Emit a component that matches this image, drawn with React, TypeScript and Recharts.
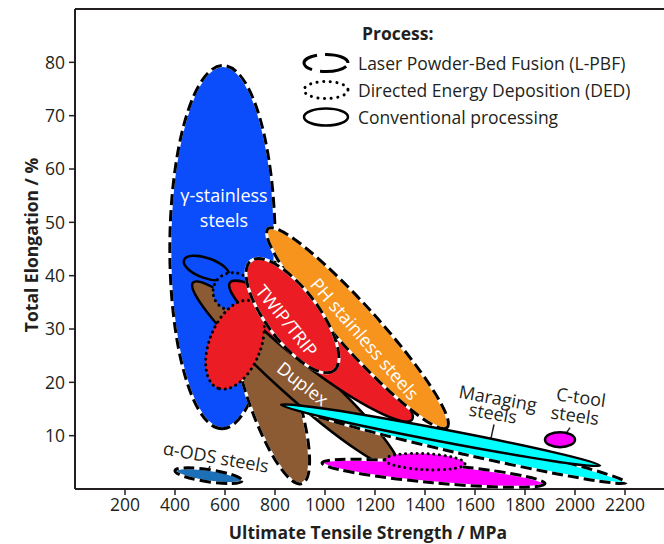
import React from 'react';
import { ScatterChart, Scatter, XAxis, YAxis, ReferenceLine, Legend } from 'recharts';

const FONT = '"Open Sans", "Noto Sans", sans-serif';
const INK = '#231f20';

// ---- axis ticks ----
const xTicks = [200, 400, 600, 800, 1000, 1200, 1400, 1600, 1800, 2000, 2200];
const yTicks = [10, 20, 30, 40, 50, 60, 70, 80];

// ---- ellipses (property envelopes), in draw order ----
// each ellipse: material, process, major-axis end points (UTS MPa, elongation %), minor/major ratio
const ellipseMaterial = [
  'gamma', 'duplex', 'duplex', 'gamma', 'gamma', 'twip', 'ph', 'twip', 'twip',
  'maraging', 'maraging', 'mag', 'mag', 'ctool', 'ods',
];
const ellipseProcess = [
  'LPBF', 'LPBF', 'CONV', 'CONV', 'DED', 'CONV', 'LPBF', 'DED', 'LPBF',
  'LPBF', 'CONV', 'LPBF', 'DED', 'CONV', 'LPBF',
];
const ellipseUtsFrom = [592, 660, 472, 436, 552, 620, 772, 708, 704, 900, 824, 988, 1240, 1880, 400];
const ellipseElFrom = [79.4, 35.5, 38.7, 42.9, 37.2, 38.7, 48.8, 35.2, 42.8, 15.1, 15.8, 4.9, 5.5, 9.25, 3.44];
const ellipseUtsTo = [588, 908, 1292, 616, 712, 1348, 1488, 572, 1036, 2204, 2100, 1880, 1560, 2000, 668];
const ellipseElTo = [11.3, 1.0, 4.0, 39.9, 36.8, 13.0, 11.5, 18.9, 22.2, 1.2, 4.4, 1.0, 4.75, 9.25, 1.56];
const ellipseAspect = [0.29, 0.25, 0.145, 0.42, 0.95, 0.18, 0.16, 0.55, 0.38, 0.05, 0.038, 0.085, 0.2, 0.5, 0.18];

const materialColor: Record<string, string> = {
  gamma: '#0b4dfb',
  duplex: '#8d5b33',
  twip: '#ec1c24',
  ph: '#f7941d',
  maraging: '#00ffff',
  mag: '#ff00ff',
  ctool: '#ff00ff',
  ods: '#1c70b8',
};

// ---- labels ----
const labelText = ['γ-stainless', 'steels', 'TWIP/TRIP', 'PH stainless steels', 'Duplex', 'Maraging', 'steels', 'C-tool', 'steels', 'α-ODS steels'];
const labelUts = [596, 596, 848, 1160, 912, 1692, 1672, 2024, 2000, 564];
const labelEl = [55.2, 50.5, 31.6, 28.2, 19.8, 17.1, 14.3, 17.3, 13.9, 6.06];
const labelAngle = [0, 0, 51, 49, 38, 10, 10, 8, 8, 10];
const labelWhite = [true, true, true, true, true, false, false, false, false, false];

// ---- leader lines ----
const leaderFrom = [[1676, 12.1], [1980, 11.5], [540, 4.3]];
const leaderTo = [[1660, 8.7], [1948, 9.25], [516, 1.9]];

// ---- legend ----
const legendTitle = 'Process:';
const legendLabels = ['Laser Powder-Bed Fusion (L-PBF)', 'Directed Energy Deposition (DED)', 'Conventional processing'];
const legendKinds = ['LPBF', 'DED', 'CONV'];

const ellipses = ellipseMaterial.map((m, i) => ({
  material: m,
  process: ellipseProcess[i],
  aspect: ellipseAspect[i],
  pts: [
    { x: ellipseUtsFrom[i], y: ellipseElFrom[i] },
    { x: ellipseUtsTo[i], y: ellipseElTo[i] },
  ],
}));

const labels = labelText.map((t, i) => ({ x: labelUts[i], y: labelEl[i], text: t, angle: labelAngle[i], white: labelWhite[i] }));

function Outline({ kind, ...rest }: any) {
  if (kind === 'LPBF') {
    return (
      <g>
        <ellipse {...rest} fill="none" stroke="#ffffff" strokeWidth={3} />
        <ellipse {...rest} fill="none" stroke="#000" strokeWidth={3} strokeDasharray="11 5" />
      </g>
    );
  }
  if (kind === 'DED') {
    return <ellipse {...rest} fill="none" stroke="#000" strokeWidth={3} strokeDasharray="0.1 5.5" strokeLinecap="round" />;
  }
  return <ellipse {...rest} fill="none" stroke="#000" strokeWidth={2.5} />;
}

function renderEllipse(p: any, e: any) {
  const pts = p && p.points;
  if (!pts || pts.length < 2) return <g />;
  const a = pts[0];
  const b = pts[1];
  const cx = (a.x + b.x) / 2;
  const cy = (a.y + b.y) / 2;
  const dx = b.x - a.x;
  const dy = b.y - a.y;
  const rx = Math.hypot(dx, dy) / 2;
  const ry = rx * e.aspect;
  const ang = (Math.atan2(dy, dx) * 180) / Math.PI;
  const geom = { cx, cy, rx, ry, transform: `rotate(${ang} ${cx} ${cy})` };
  return (
    <g>
      <ellipse {...geom} fill={materialColor[e.material]} stroke="none" />
      <Outline kind={e.process} {...geom} />
    </g>
  );
}

const NoShape = () => <g />;

function LabelShape(p: any) {
  const { cx, cy, payload } = p;
  if (cx == null || cy == null) return <g />;
  return (
    <text
      x={cx}
      y={cy}
      transform={`rotate(${payload.angle} ${cx} ${cy})`}
      textAnchor="middle"
      dominantBaseline="central"
      fontFamily={FONT}
      fontSize={18}
      fill={payload.white ? '#ffffff' : INK}
    >
      {payload.text}
    </text>
  );
}

function LegendIcon({ kind, cx, cy }: any) {
  const g = { cx, cy, rx: 22, ry: 8.5 };
  if (kind === 'LPBF') return <ellipse {...g} fill="none" stroke="#000" strokeWidth={3} strokeDasharray="27 8" strokeDashoffset={-4} />;
  if (kind === 'DED') return <ellipse {...g} fill="none" stroke="#000" strokeWidth={3} strokeDasharray="0.1 6.5" strokeLinecap="round" />;
  return <ellipse {...g} fill="none" stroke="#000" strokeWidth={2.5} />;
}

function LegendContent() {
  return (
    <svg width={340} height={120} style={{ display: 'block', overflow: 'visible' }}>
      <text x={67} y={18} dominantBaseline="central" fontFamily={FONT} fontWeight={700} fontSize={17.5} fill={INK}>
        {legendTitle}
      </text>
      {legendLabels.map((l, i) => (
        <g key={l}>
          <LegendIcon kind={legendKinds[i]} cx={31} cy={48 + 27 * i} />
          <text x={63} y={48 + 27 * i} dominantBaseline="central" fontFamily={FONT} fontSize={17.5} fill={INK}>
            {l}
          </text>
        </g>
      ))}
    </svg>
  );
}

export default function App() {
  return (
    <div style={{ position: 'absolute', left: 0, top: 0, width: 700, height: 544, background: '#fff' }}>
      <ScatterChart width={700} height={544} margin={{ top: 9, right: 25, left: 0, bottom: 0 }}>
        <XAxis
          type="number"
          dataKey="x"
          domain={[0, 2400]}
          ticks={xTicks}
          allowDataOverflow
          height={55}
          tickSize={6}
          tickMargin={4}
          axisLine={{ stroke: INK, strokeWidth: 2 }}
          tickLine={{ stroke: INK, strokeWidth: 1.5 }}
          tick={{ fill: INK, fontSize: 17.5, fontFamily: FONT }}
          label={(p: any) => {
            const vb = p.viewBox || {};
            const x = (vb.x ?? 75) + (vb.width ?? 600) / 2 - 7;
            return (
              <text x={x} y={539} textAnchor="middle" fontFamily={FONT} fontWeight={700} fontSize={17.5} fill={INK}>
                Ultimate Tensile Strength / MPa
              </text>
            );
          }}
        />
        <YAxis
          type="number"
          dataKey="y"
          domain={[0, 90]}
          ticks={yTicks}
          allowDataOverflow
          width={75}
          tickSize={6}
          tickMargin={4}
          axisLine={{ stroke: INK, strokeWidth: 2 }}
          tickLine={{ stroke: INK, strokeWidth: 1.5 }}
          tick={{ fill: INK, fontSize: 17.5, fontFamily: FONT }}
          label={() => (
            <text
              x={31}
              y={245}
              transform="rotate(-90 31 245)"
              textAnchor="middle"
              dominantBaseline="central"
              fontFamily={FONT}
              fontWeight={700}
              fontSize={17.5}
              fill={INK}
            >
              Total Elongation / %
            </text>
          )}
        />
        <ReferenceLine y={90} stroke={INK} strokeWidth={2} ifOverflow="visible" />
        {ellipses.map((e, i) => (
          <Scatter
            key={'e' + i}
            data={e.pts}
            shape={NoShape}
            line={(p: any) => renderEllipse(p, e)}
            isAnimationActive={false}
            legendType="none"
          />
        ))}
        {leaderFrom.map((f, i) => (
          <ReferenceLine
            key={'l' + i}
            segment={[{ x: f[0], y: f[1] }, { x: leaderTo[i][0], y: leaderTo[i][1] }]}
            stroke={INK}
            strokeWidth={1.5}
          />
        ))}
        <Scatter data={labels} shape={LabelShape} isAnimationActive={false} legendType="none" />
        <Legend
          layout="vertical"
          align="center"
          verticalAlign="middle"
          content={LegendContent}
          wrapperStyle={{ top: 15, left: 295, width: 340, height: 120 }}
        />
      </ScatterChart>
    </div>
  );
}
